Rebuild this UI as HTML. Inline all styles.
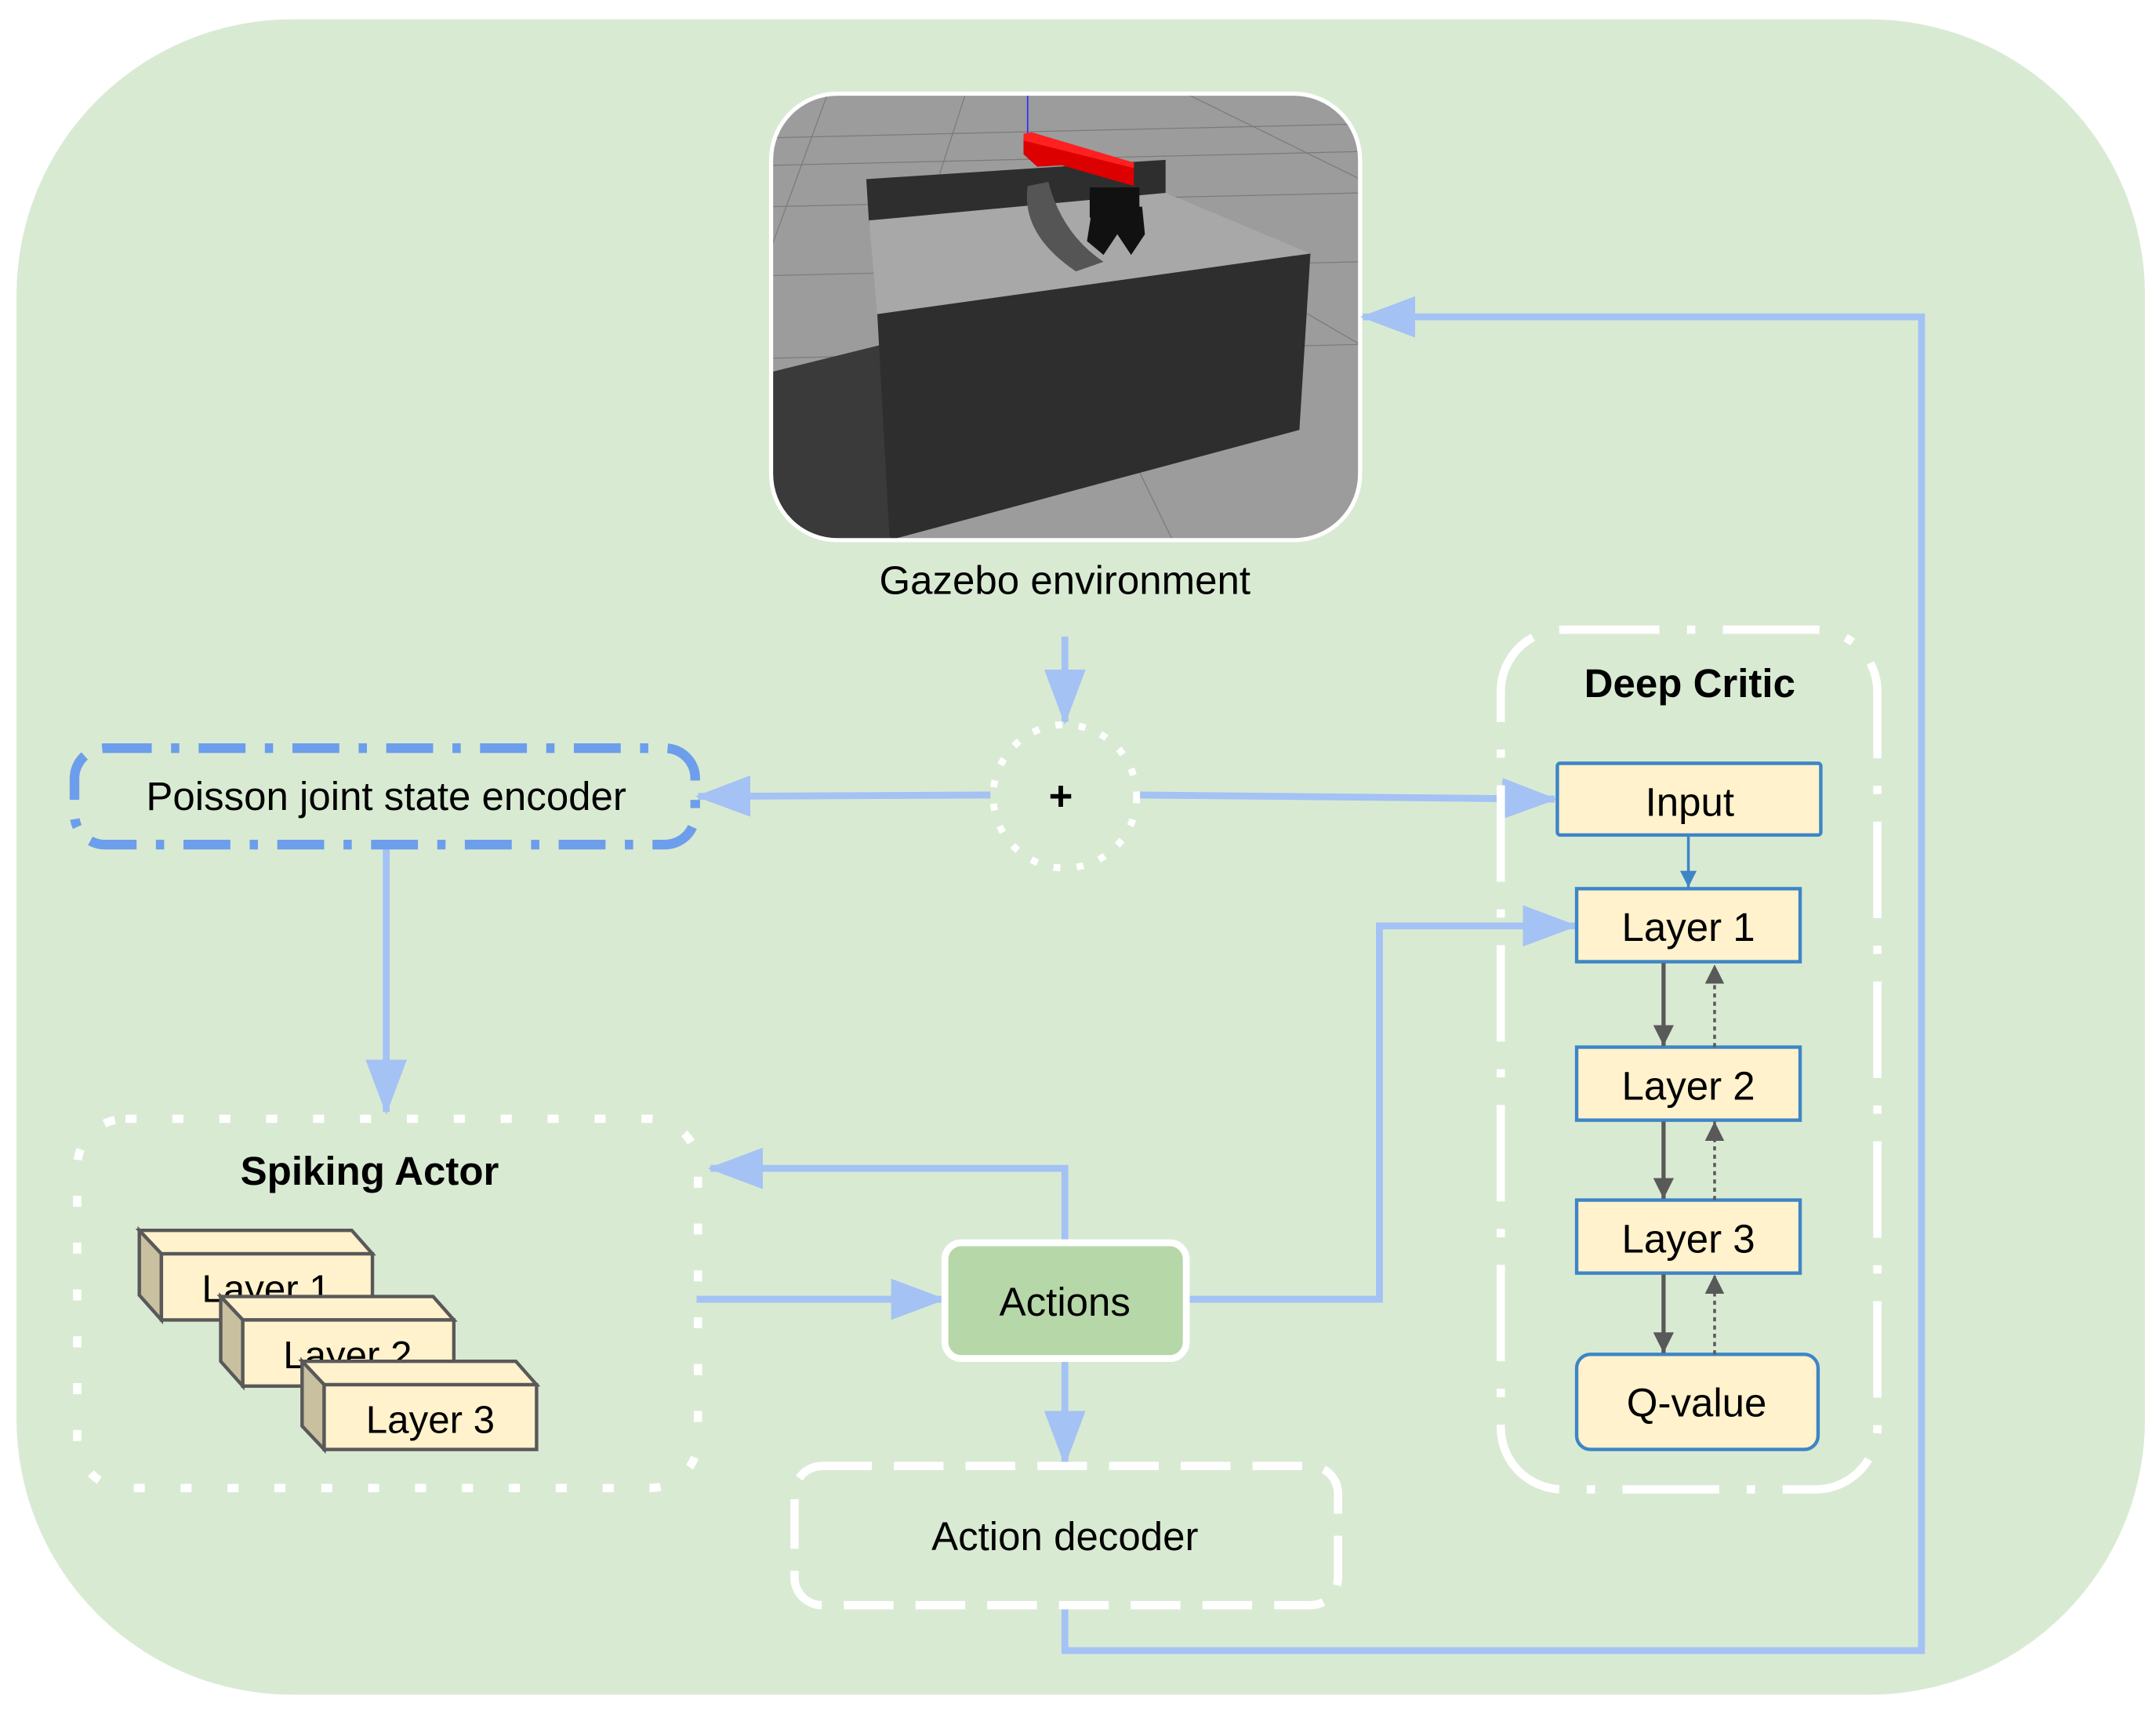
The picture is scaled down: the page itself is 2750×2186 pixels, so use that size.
<!DOCTYPE html>
<html><head><meta charset="utf-8"><style>
html,body{margin:0;padding:0;background:#fff;}
svg{display:block;}
text{font-family:"Liberation Sans",sans-serif;}
</style></head><body>
<svg width="2750" height="2186" viewBox="0 0 1563 1244" preserveAspectRatio="none" xmlns="http://www.w3.org/2000/svg">
<defs>
<marker id="ab" viewBox="0 0 40 30" refX="38" refY="15" markerWidth="40" markerHeight="30" markerUnits="userSpaceOnUse" orient="auto"><path d="M0,0 L40,15 L0,30 z" fill="#a4c2f4"/></marker>
<marker id="ad" viewBox="0 0 10 10" refX="10" refY="5" markerWidth="5" markerHeight="5" markerUnits="strokeWidth" orient="auto"><path d="M0,0 L10,5 L0,10 z" fill="#595959"/></marker>
<marker id="ad2" viewBox="0 0 10 10" refX="10" refY="5" markerWidth="7" markerHeight="7" markerUnits="strokeWidth" orient="auto"><path d="M0,0 L10,5 L0,10 z" fill="#595959"/></marker>
<marker id="abl" viewBox="0 0 10 10" refX="10" refY="5" markerWidth="6" markerHeight="6" markerUnits="strokeWidth" orient="auto"><path d="M0,0 L10,5 L0,10 z" fill="#3d85c6"/></marker>
<clipPath id="gc"><rect x="559" y="68" width="427" height="324" rx="48"/></clipPath>
</defs>
<rect x="12" y="14" width="1543" height="1216" rx="200" fill="#d9ead3"/>

<!-- Gazebo image -->
<g clip-path="url(#gc)">
<rect x="559" y="68" width="427" height="324" fill="#9c9c9c"/>
<g stroke="#7a7a7a" stroke-width="0.7" fill="none">
<line x1="559" y1="100" x2="986" y2="90"/><line x1="559" y1="120" x2="986" y2="110"/><line x1="559" y1="150" x2="986" y2="140"/><line x1="559" y1="200" x2="986" y2="190"/><line x1="559" y1="260" x2="986" y2="250"/>
<line x1="600" y1="68" x2="559" y2="180"/><line x1="700" y1="68" x2="680" y2="130"/><line x1="860" y1="68" x2="986" y2="130"/><line x1="900" y1="200" x2="986" y2="250"/><line x1="820" y1="330" x2="850" y2="392"/>
</g>
<polygon points="559,270 640,250 645,392 559,392" fill="#3a3a3a"/>
<polygon points="628,130 845,116 845,142 630,162" fill="#2e2e2e"/>
<polygon points="630,160 845,140 950,184 636,228" fill="#a8a8a8"/>
<path d="M760,132 Q770,170 800,190 L780,197 Q740,170 745,135 z" fill="#555"/>
<polygon points="636,228 950,184 942,312 645,392" fill="#2e2e2e"/>
<line x1="745" y1="68" x2="745" y2="100" stroke="#3030ff" stroke-width="1"/>
<polygon points="742,97 748,97 822,120 822,135 770,120 752,121 742,112" fill="#dd0000"/>
<polygon points="742,97 748,96 822,118 822,122 742,102" fill="#ff2020"/>
<rect x="790" y="136" width="36" height="22" fill="#111"/>
<path d="M792,150 L788,175 L800,185 L810,170 L820,185 L830,170 L828,150 z" fill="#111"/>
</g>
<rect x="559" y="68" width="427" height="324" rx="48" fill="none" stroke="#fff" stroke-width="3"/>
<text x="772" y="431" font-size="29" text-anchor="middle">Gazebo environment</text>

<!-- connectors -->
<g stroke="#a4c2f4" stroke-width="5" fill="none">
<line x1="772" y1="462" x2="772" y2="524" marker-end="url(#ab)"/>
<line x1="718" y1="577" x2="506" y2="578" marker-end="url(#ab)"/>
<path d="M826,577 L1127,580" marker-end="url(#ab)"/>
<line x1="280" y1="613" x2="280" y2="807" marker-end="url(#ab)"/>
<line x1="505" y1="943" x2="684" y2="943" marker-end="url(#ab)"/>
<path d="M772,902 V848 H515" marker-end="url(#ab)"/>
<path d="M860,943 H1000 V672 H1142" marker-end="url(#ab)"/>
<line x1="772" y1="986" x2="772" y2="1062" marker-end="url(#ab)"/>
<path d="M772,1165 V1198 H1393 V230 H988" marker-end="url(#ab)"/>
</g>

<!-- plus -->
<circle cx="772" cy="578" r="52" fill="none" stroke="#fff" stroke-width="5" stroke-dasharray="5,12"/>
<text x="769" y="588" font-size="30" font-weight="bold" text-anchor="middle">+</text>

<!-- Poisson -->
<rect x="54" y="543" width="450" height="70" rx="22" fill="none" stroke="#6d9eeb" stroke-width="7" stroke-dasharray="34,14,6,14"/>
<text x="280" y="588" font-size="29" text-anchor="middle">Poisson joint state encoder</text>

<!-- Spiking actor -->
<rect x="56" y="812" width="450" height="268" rx="35" fill="none" stroke="#fff" stroke-width="6" stroke-dasharray="8,26"/>
<text x="268" y="860" font-size="29" font-weight="bold" text-anchor="middle">Spiking Actor</text>
<g stroke="#595959" stroke-width="2.5">
<g><polygon points="101,893 255,893 270,910 117,910" fill="#fff2cc"/><polygon points="101,893 117,910 117,958 101,940" fill="#c9c0a0"/><rect x="117" y="910" width="153" height="48" fill="#fff2cc"/></g>
<text x="193" y="945" font-size="28" text-anchor="middle" stroke="none">Layer 1</text>
<g><polygon points="160,941 314,941 329,958 176,958" fill="#fff2cc"/><polygon points="160,941 176,958 176,1006 160,988" fill="#c9c0a0"/><rect x="176" y="958" width="153" height="48" fill="#fff2cc"/></g>
<text x="252" y="993" font-size="28" text-anchor="middle" stroke="none">Layer 2</text>
<g><polygon points="219,988 374,988 389,1005 235,1005" fill="#fff2cc"/><polygon points="219,988 235,1005 235,1052 219,1035" fill="#c9c0a0"/><rect x="235" y="1005" width="154" height="47" fill="#fff2cc"/></g>
<text x="312" y="1040" font-size="28" text-anchor="middle" stroke="none">Layer 3</text>
</g>

<!-- Actions -->
<rect x="685" y="902" width="175" height="84" rx="12" fill="#b6d7a8" stroke="#fff" stroke-width="5"/>
<text x="772" y="955" font-size="29" text-anchor="middle">Actions</text>

<!-- Action decoder -->
<rect x="576" y="1064" width="394" height="101" rx="20" fill="none" stroke="#fff" stroke-width="6" stroke-dasharray="36,16"/>
<text x="772" y="1125" font-size="29" text-anchor="middle">Action decoder</text>

<!-- Deep Critic -->
<rect x="1088" y="457" width="273" height="624" rx="45" fill="none" stroke="#fff" stroke-width="6" stroke-dasharray="70,20,6,20"/>
<text x="1225" y="506" font-size="29" font-weight="bold" text-anchor="middle">Deep Critic</text>
<g fill="#fff2cc" stroke="#3d85c6" stroke-width="2.5">
<rect x="1129" y="554" width="191" height="52" rx="2"/>
<rect x="1143" y="645" width="162" height="53"/>
<rect x="1143" y="760" width="162" height="53"/>
<rect x="1143" y="871" width="162" height="53"/>
<rect x="1143" y="983" width="175" height="69" rx="10"/>
</g>
<g font-size="29" text-anchor="middle">
<text x="1225" y="592">Input</text>
<text x="1224" y="683">Layer 1</text>
<text x="1224" y="798">Layer 2</text>
<text x="1224" y="909">Layer 3</text>
<text x="1230" y="1028">Q-value</text>
</g>
<line x1="1224" y1="606" x2="1224" y2="644" stroke="#3d85c6" stroke-width="2" marker-end="url(#abl)"/>
<g stroke="#595959" stroke-width="3">
<line x1="1206" y1="699" x2="1206" y2="759" marker-end="url(#ad)"/>
<line x1="1206" y1="814" x2="1206" y2="870" marker-end="url(#ad)"/>
<line x1="1206" y1="925" x2="1206" y2="982" marker-end="url(#ad)"/>
</g>
<g stroke="#595959" stroke-width="2" stroke-dasharray="3,3">
<line x1="1243" y1="760" x2="1243" y2="700" marker-end="url(#ad2)"/>
<line x1="1243" y1="871" x2="1243" y2="814" marker-end="url(#ad2)"/>
<line x1="1243" y1="983" x2="1243" y2="925" marker-end="url(#ad2)"/>
</g>
</svg>
</body></html>
